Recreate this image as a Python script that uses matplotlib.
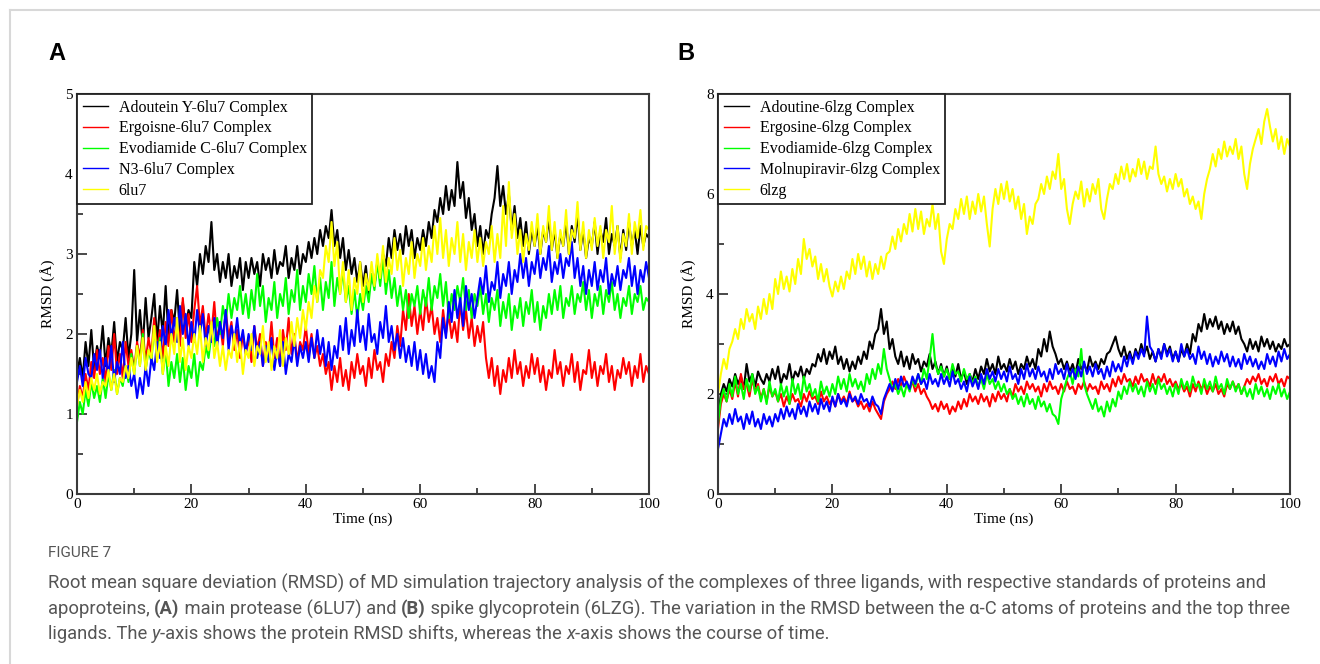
import numpy as np
import matplotlib.pyplot as plt
from matplotlib.lines import Line2D
from matplotlib.ticker import MultipleLocator

W, H = 1320, 664

# RMSD (Å) every 0.5 ns, 0..100 ns
# panel A: 6lu7
adoutein_a = [1.5,1.7,1.45,1.9,1.6,2.05,1.55,1.85,1.7,2.1,1.6,1.95,1.75,2.15,1.65,1.9,1.8,2.2,1.7,2.0,
              2.8,1.9,2.3,1.85,2.45,1.95,2.2,2.5,1.9,2.35,2.0,2.6,1.95,2.3,2.15,2.55,2.0,2.4,2.1,2.3,
              2.2,2.9,2.6,3.0,2.75,3.1,2.9,3.4,2.8,3.0,2.65,2.9,2.7,3.0,2.6,2.85,2.7,2.95,2.55,2.9,
              2.7,2.95,2.75,2.9,2.6,3.0,2.8,2.95,2.7,3.05,2.75,2.9,2.85,3.1,2.7,2.95,2.8,3.1,2.75,3.0,
              2.9,3.15,2.95,3.2,3.0,3.3,3.1,3.35,3.2,3.55,3.1,3.3,2.95,3.2,2.8,3.05,2.75,2.95,2.65,2.9,
              2.6,2.85,2.5,2.75,2.6,2.9,2.7,3.0,2.85,3.2,2.95,3.3,3.05,3.25,3.0,3.35,3.1,3.3,2.95,3.2,
              3.05,3.3,3.1,3.4,3.2,3.55,3.4,3.7,3.5,3.85,3.55,3.8,3.6,4.15,3.7,3.9,3.45,3.7,3.3,3.5,
              3.1,3.35,3.0,3.3,3.2,3.5,3.7,4.1,3.6,3.85,3.5,3.75,3.3,3.6,3.2,3.45,3.1,3.4,3.0,3.3,
              3.1,3.35,3.0,3.3,3.15,3.45,3.05,3.3,2.95,3.25,3.1,3.4,3.0,3.35,3.15,3.5,3.05,3.3,2.95,3.2,
              3.1,3.4,3.0,3.3,3.15,3.45,3.0,3.25,3.1,3.35,2.95,3.3,3.05,3.4,3.1,3.3,3.0,3.35,3.1,3.25,
              3.2]
ergoisne_a = [1.1,1.35,1.2,1.5,1.3,1.65,1.45,1.8,1.5,1.7,1.4,1.85,1.55,2.0,1.5,1.75,1.45,1.9,1.6,1.8,
              1.55,1.9,1.7,2.05,1.65,1.95,1.75,2.2,1.8,2.05,1.7,2.15,1.85,2.3,1.9,2.2,1.85,2.45,1.95,2.25,
              1.9,2.3,2.6,2.1,2.35,1.95,2.25,2.0,2.4,1.9,2.15,1.85,2.3,1.95,2.15,1.8,2.05,1.7,2.0,1.75,
              1.95,1.65,2.1,1.8,2.0,1.6,1.9,1.75,2.15,1.7,1.95,1.6,2.05,1.8,2.2,1.75,2.0,1.65,1.9,1.8,
              2.1,1.75,2.0,1.7,1.85,1.6,1.75,1.5,1.65,1.3,1.6,1.4,1.7,1.35,1.55,1.3,1.65,1.45,1.75,1.5,
              1.6,1.35,1.7,1.45,1.8,1.55,1.65,1.4,1.75,1.6,1.9,1.7,2.1,1.85,2.3,2.05,2.5,2.1,2.35,2.0,
              2.3,2.05,2.45,2.15,2.35,2.0,2.2,1.9,2.3,2.0,2.25,1.95,2.15,1.9,2.4,2.05,2.3,1.95,2.2,1.85,
              2.1,1.9,2.15,1.7,1.45,1.7,1.35,1.6,1.25,1.55,1.4,1.7,1.45,1.8,1.5,1.65,1.35,1.6,1.45,1.75,
              1.5,1.7,1.4,1.6,1.3,1.55,1.45,1.8,1.5,1.65,1.35,1.6,1.5,1.75,1.4,1.65,1.3,1.55,1.5,1.8,
              1.45,1.65,1.35,1.6,1.5,1.75,1.4,1.6,1.3,1.55,1.45,1.7,1.5,1.65,1.35,1.6,1.45,1.75,1.4,1.6,
              1.5]
evodiamide_a = [0.9,1.15,1.0,1.3,1.1,1.4,1.2,1.35,1.15,1.45,1.2,1.5,1.3,1.55,1.25,1.45,1.35,1.6,1.4,1.75,
                1.5,1.85,1.6,2.0,1.55,1.8,1.65,2.1,1.7,1.95,1.5,1.8,1.35,1.65,1.45,1.75,1.4,1.7,1.3,1.6,
                1.45,1.75,1.35,1.65,1.55,1.85,1.7,2.0,1.85,2.2,2.0,2.35,2.15,2.5,2.2,2.45,2.3,2.6,2.25,2.5,
                2.2,2.55,2.3,2.75,2.35,2.6,2.15,2.45,2.3,2.65,2.2,2.5,2.35,2.7,2.25,2.55,2.4,2.8,2.3,2.6,
                2.4,2.75,2.5,2.85,2.4,2.7,2.3,2.65,2.45,2.9,2.35,2.7,2.5,2.8,2.4,2.6,2.25,2.55,2.2,2.5,
                2.3,2.6,2.4,2.75,2.55,2.9,2.6,2.95,2.5,2.8,2.45,2.7,2.35,2.6,2.3,2.55,2.2,2.5,2.35,2.6,
                2.25,2.55,2.35,2.7,2.3,2.6,2.45,2.75,2.35,2.65,2.2,2.5,2.3,2.6,2.4,2.7,2.3,2.55,2.2,2.5,
                2.35,2.6,2.25,2.5,2.15,2.45,2.3,2.55,2.1,2.4,2.2,2.5,2.05,2.35,2.2,2.45,2.1,2.4,2.25,2.55,
                2.15,2.4,2.05,2.35,2.2,2.5,2.25,2.55,2.3,2.6,2.2,2.45,2.35,2.6,2.25,2.5,2.4,2.65,2.3,2.55,
                2.2,2.5,2.35,2.6,2.25,2.55,2.4,2.65,2.3,2.5,2.2,2.45,2.35,2.6,2.25,2.5,2.4,2.6,2.3,2.45,
                2.4]
n3_a = [1.4,1.6,1.35,1.7,1.5,1.45,1.75,1.55,1.8,1.45,1.7,1.5,1.85,1.4,1.65,1.5,1.9,1.45,1.6,1.35,
        1.5,1.2,1.45,1.25,1.6,1.35,1.7,1.55,1.9,1.7,2.1,1.85,2.3,1.95,2.2,1.9,2.35,2.0,2.25,1.85,
        2.15,1.9,2.3,2.0,2.25,1.85,2.1,1.9,2.2,1.85,2.15,1.95,2.3,1.8,2.1,1.9,2.2,1.85,2.05,1.75,
        2.0,1.8,2.1,1.7,1.9,1.6,1.85,1.65,1.95,1.55,1.8,1.6,1.9,1.5,1.75,1.65,1.95,1.6,1.85,1.7,
        1.9,1.65,1.95,1.7,2.05,1.75,1.95,1.6,1.9,1.55,1.85,1.7,2.1,1.8,2.2,1.75,2.05,1.85,2.3,1.9,
        2.1,1.8,2.25,1.9,2.0,1.75,2.15,1.95,2.35,1.9,2.1,1.8,2.0,1.7,1.95,1.65,1.85,1.6,1.9,1.55,
        1.8,1.5,1.75,1.45,1.6,1.4,1.9,1.7,2.2,1.95,2.4,2.15,2.55,2.2,2.45,2.1,2.6,2.3,2.5,2.2,
        2.45,2.7,2.5,2.85,2.4,2.65,2.55,2.9,2.45,2.75,2.6,2.9,2.5,2.8,2.65,3.0,2.7,2.95,2.6,2.9,
        2.75,3.05,2.7,2.95,2.8,3.1,2.65,2.9,2.75,3.0,2.7,2.95,2.85,3.15,2.7,2.95,2.6,2.85,2.5,2.8,
        2.6,2.9,2.55,2.8,2.65,2.95,2.5,2.75,2.6,2.85,2.55,2.8,2.7,2.95,2.6,2.85,2.5,2.8,2.65,2.9,
        2.7]
apo_a = [1.1,1.3,1.15,1.4,1.2,1.45,1.3,1.5,1.25,1.4,1.35,1.55,1.3,1.5,1.25,1.45,1.4,1.6,1.45,1.7,
         1.5,1.85,1.6,1.95,1.55,1.8,1.7,2.1,1.65,1.9,1.5,1.85,1.6,2.0,1.75,2.2,1.65,1.95,1.55,1.85,
         1.7,2.0,1.75,2.1,1.65,1.95,1.8,2.15,1.7,1.9,1.6,1.85,1.55,1.8,1.7,2.0,1.65,1.9,1.5,1.8,
         1.7,2.0,1.6,1.85,1.75,2.1,1.65,1.9,1.55,1.85,1.7,2.05,1.6,1.95,1.75,2.15,1.85,2.2,1.95,2.3,
         2.05,2.4,2.2,2.6,2.4,2.8,2.7,3.1,2.9,3.4,2.85,3.15,2.5,2.9,2.4,2.8,2.3,2.7,2.5,2.9,
         2.4,2.75,2.55,2.9,2.6,3.0,2.7,3.1,2.65,2.95,2.75,3.2,2.8,3.05,2.6,2.95,2.75,3.15,2.7,3.0,
         2.85,3.2,2.8,3.1,2.9,3.35,3.0,3.45,2.95,3.3,2.85,3.2,3.0,3.4,2.9,3.25,2.8,3.15,2.95,3.3,
         2.9,3.2,2.85,3.15,3.0,3.35,2.9,3.25,2.95,3.6,3.1,3.9,3.2,3.5,3.0,3.3,2.9,3.25,3.05,3.4,
         3.1,3.5,3.0,3.35,3.15,3.6,3.05,3.4,2.95,3.3,3.1,3.55,3.0,3.3,3.2,3.65,3.05,3.4,2.95,3.3,
         3.05,3.45,3.1,3.35,2.95,3.3,3.15,3.6,3.0,3.35,2.9,3.25,3.1,3.5,3.0,3.4,3.2,3.55,3.05,3.35,
         3.3]

# panel B: 6lzg
adoutine_b = [1.5,2.0,2.2,2.05,2.3,2.15,2.4,2.2,2.35,2.1,2.6,2.25,2.4,2.15,2.45,2.3,2.2,2.4,2.25,2.5,
              2.3,2.55,2.2,2.4,2.3,2.6,2.25,2.45,2.35,2.55,2.3,2.5,2.4,2.6,2.55,2.8,2.65,2.9,2.6,2.85,
              2.7,2.95,2.6,2.75,2.5,2.7,2.45,2.65,2.5,2.75,2.6,2.85,2.7,3.05,2.9,3.2,3.3,3.7,3.2,3.45,
              2.9,3.1,2.75,2.6,2.85,2.55,2.75,2.5,2.8,2.6,2.7,2.45,2.65,2.55,2.8,2.5,2.65,2.4,2.6,2.35,
              2.55,2.3,2.5,2.35,2.6,2.3,2.45,2.2,2.4,2.25,2.5,2.3,2.55,2.4,2.7,2.45,2.6,2.4,2.75,2.5,
              2.6,2.45,2.7,2.5,2.65,2.4,2.6,2.5,2.75,2.55,2.7,2.5,2.9,2.75,3.1,2.85,3.25,2.95,2.8,2.6,
              2.7,2.5,2.65,2.45,2.6,2.4,2.7,2.5,2.6,2.45,2.75,2.55,2.65,2.5,2.7,2.6,2.8,2.85,3.0,3.15,
              2.9,2.75,2.95,2.7,2.85,2.65,2.9,2.75,3.0,2.8,2.95,2.7,2.85,2.65,2.9,2.75,3.0,2.8,2.95,2.7,
              2.85,2.65,2.9,2.75,3.0,2.8,3.2,3.05,3.4,3.25,3.6,3.3,3.5,3.35,3.55,3.3,3.45,3.2,3.4,3.25,
              3.45,3.2,3.35,3.1,3.0,2.85,3.1,2.9,3.05,2.85,3.15,2.95,3.1,2.9,3.05,2.85,3.0,2.9,3.1,2.95,
              3.0]
ergosine_b = [1.3,1.8,2.0,1.85,2.1,1.9,2.25,1.95,2.4,2.1,2.2,1.95,2.3,2.05,2.2,1.9,2.1,1.85,2.15,1.95,
              2.05,1.85,2.0,1.75,1.95,1.8,2.0,1.85,1.9,1.75,2.0,1.85,2.05,1.9,1.95,1.8,2.05,1.85,1.95,1.8,
              1.9,1.75,2.0,1.85,1.95,1.8,2.05,1.85,1.9,1.75,1.85,1.7,1.8,1.65,1.85,1.7,1.6,1.5,1.85,2.0,
              2.1,2.25,2.1,2.3,2.15,2.35,2.2,2.1,2.25,2.05,2.2,2.0,2.1,1.95,1.85,1.7,1.8,1.65,1.85,1.7,
              1.8,1.6,1.75,1.65,1.85,1.7,1.9,1.75,2.0,1.85,1.95,1.8,2.0,1.85,1.95,1.75,2.0,1.85,2.05,1.9,
              2.0,1.85,2.1,1.95,2.2,2.05,2.15,2.0,2.25,2.1,2.2,2.05,2.15,1.95,2.2,2.05,2.25,2.1,2.15,2.0,
              2.2,2.05,2.25,2.1,2.15,2.0,2.2,2.1,2.25,2.05,2.2,2.1,2.15,2.0,2.25,2.1,2.2,2.05,2.3,2.15,
              2.35,2.2,2.4,2.25,2.3,2.15,2.35,2.2,2.4,2.25,2.3,2.15,2.4,2.2,2.35,2.25,2.4,2.2,2.3,2.15,
              2.25,2.1,2.2,2.05,2.15,1.95,2.2,2.05,2.25,2.1,2.2,2.0,2.15,2.05,2.2,2.0,2.1,1.95,2.2,2.1,
              2.25,2.1,2.2,2.0,2.15,2.3,2.2,2.35,2.25,2.4,2.2,2.3,2.15,2.35,2.25,2.4,2.2,2.3,2.15,2.35,
              2.3]
evodiamide_b = [1.4,1.9,2.1,1.85,2.2,1.95,2.35,2.0,2.2,1.9,2.3,2.05,2.4,2.0,2.15,1.85,2.1,1.8,2.25,1.95,
                2.1,1.85,2.2,1.95,2.15,1.8,2.3,2.0,2.2,1.9,2.35,2.05,2.2,1.95,2.1,1.85,2.25,2.0,2.15,1.95,
                2.2,2.0,2.35,2.1,2.3,2.05,2.4,2.15,2.3,2.1,2.25,2.05,2.4,2.2,2.5,2.3,2.6,2.4,2.9,2.5,
                2.3,2.1,2.2,2.0,2.15,1.95,2.2,2.05,2.3,2.15,2.4,2.2,2.5,2.3,2.7,3.2,2.6,2.4,2.55,2.35,
                2.5,2.3,2.6,2.4,2.45,2.25,2.5,2.3,2.4,2.2,2.35,2.15,2.3,2.1,2.4,2.2,2.3,2.1,2.25,2.05,
                2.2,2.0,2.1,1.9,2.0,1.8,1.95,1.75,2.0,1.8,1.9,1.7,1.95,1.75,1.85,1.65,1.8,1.6,1.55,1.4,
                1.9,2.1,2.3,2.45,2.2,2.5,2.35,2.9,2.2,2.0,1.85,1.7,1.9,1.65,1.75,1.55,1.85,1.65,1.9,1.75,
                2.05,1.9,2.15,2.0,2.25,2.05,2.2,2.0,2.15,1.95,2.25,2.05,2.2,2.0,2.3,2.1,2.2,2.0,2.15,1.95,
                2.2,2.0,2.3,2.1,2.25,2.05,2.35,2.15,2.2,2.0,2.3,2.1,2.25,2.05,2.35,2.1,2.2,2.0,2.3,2.1,
                2.25,2.05,2.2,2.0,2.15,1.95,2.1,1.9,2.2,2.0,2.15,1.95,2.1,1.9,2.15,2.0,2.2,1.95,2.1,1.9,
                2.05]
molnupiravir_b = [0.9,1.2,1.5,1.35,1.6,1.4,1.7,1.45,1.55,1.3,1.6,1.4,1.65,1.35,1.5,1.3,1.6,1.4,1.55,1.35,
                  1.6,1.45,1.7,1.5,1.75,1.55,1.7,1.5,1.8,1.6,1.75,1.55,1.85,1.65,1.8,1.6,1.9,1.7,1.85,1.65,
                  1.95,1.75,2.0,1.8,1.9,1.75,2.0,1.85,1.95,1.8,2.0,1.85,1.9,1.75,1.95,1.8,1.75,1.6,1.9,2.05,
                  2.2,2.05,2.3,2.1,2.35,2.15,2.25,2.1,2.35,2.2,2.4,2.2,2.3,2.1,2.4,2.2,2.3,2.15,2.4,2.2,
                  2.35,2.15,2.45,2.2,2.3,2.1,2.25,2.05,2.35,2.15,2.3,2.1,2.4,2.2,2.5,2.3,2.45,2.25,2.5,2.3,
                  2.45,2.25,2.55,2.3,2.4,2.2,2.5,2.3,2.6,2.35,2.5,2.3,2.55,2.35,2.45,2.25,2.5,2.3,2.6,2.4,
                  2.5,2.3,2.6,2.35,2.5,2.3,2.55,2.35,2.65,2.4,2.55,2.35,2.6,2.4,2.5,2.3,2.55,2.35,2.65,2.45,
                  2.6,2.45,2.75,2.55,2.8,2.6,2.85,2.7,2.9,2.75,3.55,2.95,2.85,2.65,2.9,2.7,3.0,2.75,2.9,2.65,
                  2.85,2.65,3.0,2.75,2.9,2.7,2.8,2.6,2.95,2.7,2.85,2.6,2.8,2.55,2.75,2.6,2.85,2.65,2.8,2.55,
                  2.75,2.55,2.7,2.5,2.8,2.6,2.75,2.55,2.7,2.5,2.65,2.5,2.8,2.6,2.75,2.55,2.85,2.65,2.9,2.7,
                  2.8]
apo_b = [2.0,2.4,2.7,2.5,2.9,3.05,3.3,3.1,3.5,3.3,3.7,3.45,3.6,3.3,3.75,3.5,3.9,3.6,4.0,3.7,
         4.3,4.0,4.45,4.1,4.35,4.05,4.5,4.2,4.7,4.4,5.1,4.7,4.9,4.55,4.75,4.3,4.6,4.25,4.5,4.15,
         3.95,4.25,4.05,4.35,4.1,4.45,4.3,4.7,4.4,4.8,4.5,4.75,4.35,4.65,4.3,4.6,4.4,4.75,4.5,4.8,
         4.85,5.15,4.9,5.3,5.05,5.4,5.2,5.6,5.25,5.7,5.3,5.65,5.2,5.5,5.35,5.8,5.3,5.6,4.85,4.6,
         5.1,5.4,5.3,5.7,5.5,5.9,5.6,5.95,5.5,5.85,5.6,6.0,5.65,5.95,5.4,4.95,5.7,6.1,5.8,6.2,
         5.9,6.25,5.85,6.1,5.7,5.95,5.5,5.8,5.2,5.55,5.4,5.8,5.9,6.2,6.0,6.35,6.1,6.45,6.3,6.8,
         6.1,6.3,5.7,5.4,5.8,6.05,5.9,6.25,5.75,6.1,5.85,6.2,6.0,6.3,5.7,5.5,5.9,6.2,6.1,6.4,
         6.2,6.55,6.3,6.6,6.25,6.5,6.35,6.7,6.4,6.65,6.3,6.55,6.5,6.95,6.4,6.2,6.35,6.05,6.3,6.1,
         6.4,6.15,6.3,5.95,6.1,5.8,5.95,5.7,5.85,5.5,6.0,6.3,6.5,6.8,6.55,6.9,6.7,7.05,6.75,6.95,
         6.8,7.1,6.7,6.95,6.4,6.1,6.6,6.9,7.1,7.3,7.0,7.45,7.7,7.35,7.05,7.3,6.9,7.15,6.8,7.1,
         6.95]

labels_a = ['Adoutein Y-6lu7 Complex', 'Ergoisne-6lu7 Complex', 'Evodiamide C-6lu7 Complex',
            'N3-6lu7 Complex', '6lu7']
labels_b = ['Adoutine-6lzg Complex', 'Ergosine-6lzg Complex', 'Evodiamide-6lzg Complex',
            'Molnupiravir-6lzg Complex', '6lzg']
colors = ['#000000', '#ff0000', '#00ff00', '#0000ff', '#ffff00']

SERIF = 'Liberation Serif'
fig = plt.figure(figsize=(W / 100, H / 100), dpi=100)


def panel(left_px, series, labels, ymax, ystep):
    ax = fig.add_axes([left_px / W, 1 - 494 / H, 572 / W, 400 / H])
    for v, lab, c in zip(series, labels, colors):
        t = np.linspace(0, 100, len(v))
        ax.plot(t, v, color=c, lw=1.5, label=lab)
    ax.set_xlim(0, 100)
    ax.set_ylim(0, ymax)
    ax.xaxis.set_major_locator(MultipleLocator(20))
    ax.xaxis.set_minor_locator(MultipleLocator(10))
    ax.yaxis.set_major_locator(MultipleLocator(ystep))
    ax.yaxis.set_minor_locator(MultipleLocator(ystep / 2))
    for s in ax.spines.values():
        s.set_color('#3a3a3a')
        s.set_linewidth(1.5)
    ax.tick_params(which='both', direction='in', color='#3a3a3a', width=1.3,
                   top=False, right=False, labelsize=11, pad=3)
    ax.tick_params(which='major', length=7)
    ax.tick_params(which='minor', length=4)
    for lb in ax.get_xticklabels() + ax.get_yticklabels():
        lb.set_family(SERIF)
    ax.set_xlabel('Time (ns)', family=SERIF, fontsize=11, labelpad=1)
    ax.text(-29 / 572, 0.5, 'RMSD (Å)', rotation=90, transform=ax.transAxes,
            ha='center', va='center', family=SERIF, fontsize=11)
    leg = ax.legend(loc='upper left', borderaxespad=0, fancybox=False, framealpha=1,
                    edgecolor='#222222', prop={'family': SERIF, 'size': 11.5},
                    handlelength=1.6, handletextpad=0.65, labelspacing=0.3,
                    borderpad=0.35)
    leg.get_frame().set_linewidth(1.3)
    for h in leg.get_lines():
        h.set_linewidth(1.0)
    return ax


panel(77, [adoutein_a, ergoisne_a, evodiamide_a, n3_a, apo_a], labels_a, 5, 1)
panel(718, [adoutine_b, ergosine_b, evodiamide_b, molnupiravir_b, apo_b], labels_b, 8, 2)

fig.text(57 / W, 1 - 54 / H, 'A', fontsize=17, weight='bold', family='Liberation Sans',
         ha='center', va='center')
fig.text(686 / W, 1 - 54 / H, 'B', fontsize=17, weight='bold', family='Liberation Sans',
         ha='center', va='center')

# page frame
fig.add_artist(Line2D([10 / W, 1], [1 - 10 / H, 1 - 10 / H], color='#d8d8d8', lw=1.5))
fig.add_artist(Line2D([10 / W, 10 / W], [0, 1 - 10 / H], color='#d8d8d8', lw=1.5))

# caption
CAP = 'Roboto'
cap_col = '#555555'
fig.text(48 / W, 1 - 553 / H, 'FIGURE 7', fontsize=11, color='#555555', family=CAP,
         va='center')

renderer = fig.canvas.get_renderer()


def rich_line(x_px, y_px, parts):
    x = x_px / W
    for s, w, st in parts:
        t = fig.text(x, 1 - y_px / H, s, fontsize=13.2, color=cap_col, family=CAP,
                     weight=w, style=st, va='center')
        x += t.get_window_extent(renderer=renderer).width / W


n, b, it = 'normal', 'bold', 'italic'
rich_line(48, 583, [('Root mean square deviation (RMSD) of MD simulation trajectory analysis of the '
                     'complexes of three ligands, with respective standards of proteins and', n, 'normal')])
rich_line(48, 609, [('apoproteins, ', n, 'normal'), ('(A)', b, 'normal'),
                    (' main protease (6LU7) and ', n, 'normal'), ('(B)', b, 'normal'),
                    (' spike glycoprotein (6LZG). The variation in the RMSD between the α-C atoms '
                     'of proteins and the top three', n, 'normal')])
rich_line(48, 634, [('ligands. The ', n, 'normal'), ('y', n, it),
                    ('-axis shows the protein RMSD shifts, whereas the ', n, 'normal'),
                    ('x', n, it), ('-axis shows the course of time.', n, 'normal')])

fig.savefig('out.png', dpi=100)
